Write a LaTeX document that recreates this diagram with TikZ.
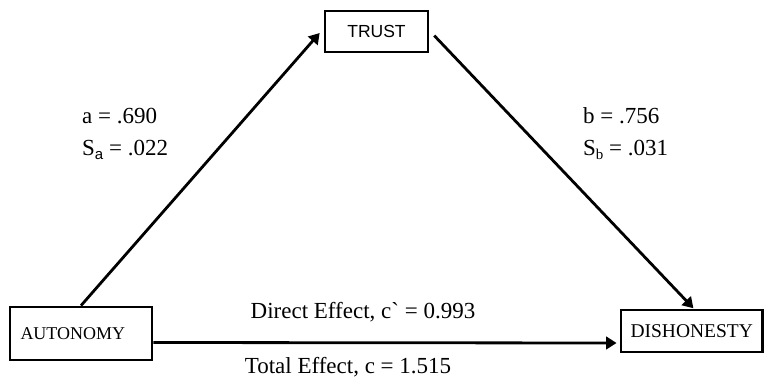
\documentclass[tikz,border=0pt]{standalone}
\usepackage{fontspec}
\setmainfont{Liberation Serif}
\newfontfamily\trustfont{Liberation Sans}
\newfontfamily\gravefont{Liberation Serif}
\usetikzlibrary{arrows.meta}
\tikzset{
  box/.style={draw, line width=2.8pt, rectangle, inner sep=0pt},
  conn/.style={line width=2.8pt, -{Triangle[length=10.5pt,width=12.5pt]}},
  lab/.style={anchor=base west, inner sep=0pt, font=\fontsize{23}{26}\selectfont},
  eff/.style={anchor=base, inner sep=0pt, font=\fontsize{23}{26}\selectfont}
}
\newcommand{\subsc}[1]{\raisebox{-0.2em}{\fontsize{15}{16}\selectfont #1}}
\begin{document}
\begin{tikzpicture}[x=1pt,y=-1pt]
\useasboundingbox (0,0) rectangle (764,378);
\node[box, minimum width=103pt, minimum height=41pt, font=\trustfont\fontsize{17.5}{19}\selectfont] (trust) at (376.5,31.5) {TRUST};
\node[box, minimum width=142pt, minimum height=53pt, inner xsep=10.5pt, text width=121pt, align=left, font=\fontsize{18}{20}\selectfont] (auto) at (81,333.5) {AUTONOMY};
\node[box, minimum width=141.5pt, minimum height=42pt, font=\fontsize{19.5}{21}\selectfont] (dish) at (691.75,331) {DISHONESTY};

\draw[conn, shorten >=6pt] (auto.north) -- ([yshift=3pt]trust.west);
\draw[conn, shorten <=7pt, shorten >=0.5pt] ([yshift=1pt]trust.east) -- ([xshift=2pt]dish.north);
\draw[conn, shorten >=3pt] ([yshift=-9pt]auto.east) -- ([yshift=-12pt]dish.west);

\node[lab] (la) at (82,123) {a = .690};
\node[lab] (sa) at (82,155) {S{\trustfont\subsc{a}} = .022};
\node[lab] (lb) at (583,123) {b = .756};
\node[lab] (sb) at (583,155) {S\subsc{b} = .031};
\node[eff] (de) at (363,318) {Direct Effect, c{\gravefont`} = 0.993};
\node[eff] (te) at (348,373) {Total Effect, c = 1.515};
\end{tikzpicture}
\end{document}
